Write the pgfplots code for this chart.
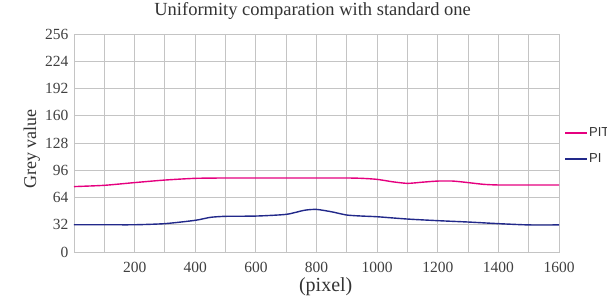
\documentclass[border=0pt]{standalone}
\usepackage{pgfplots}
\pgfplotsset{compat=1.18}
\usepackage{fontspec}
\setmainfont{Liberation Serif}
\newfontfamily\legfont{Liberation Sans}
\definecolor{pinkc}{HTML}{E5007F}
\definecolor{bluec}{HTML}{22298A}
\definecolor{gridc}{HTML}{C4C4C4}
\begin{document}
\begin{tikzpicture}
\useasboundingbox (-74pt,-50pt) rectangle (533pt,252pt);
\clip (-74pt,-50pt) rectangle (533pt,252pt);
\begin{axis}[
  at={(0pt,0pt)}, anchor=south west,
  scale only axis, width=485pt, height=218pt,
  xmin=0, xmax=1600, ymin=0, ymax=256,
  xtick={200,400,...,1600},
  minor xtick={100,300,...,1500},
  ytick={0,32,...,256},
  grid=both,
  major grid style={gridc, line width=0.9pt},
  minor grid style={gridc, line width=0.9pt},
  axis line style={gridc, line width=0.9pt},
  major tick length=0pt, minor tick length=0pt,
  /pgf/number format/assume math mode=true,
  /pgf/number format/1000 sep={},
  tick label style={font=\fontsize{15.5}{18}\selectfont, text=black!75},
  xticklabel style={anchor=base, yshift=-20pt},
  yticklabel style={anchor=east, xshift=-2pt},
  title={Uniformity comparation with standard one},
  title style={font=\fontsize{18.5}{22}\selectfont, text=black!80, anchor=base, at={(axis description cs:0.492,1)}, yshift=12pt},
  xlabel={(pixel)},
  xlabel style={font=\fontsize{20}{24}\selectfont, text=black!80, anchor=base, at={(axis description cs:0.519,-0.182)}},
  ylabel={Grey value},
  ylabel style={font=\fontsize{18}{22}\selectfont, text=black!80, anchor=base, at={(axis description cs:-0.078,0.472)}},
  legend style={draw=none, fill=none, at={(axis description cs:1.0103,0.487)}, anchor=west,
    font=\legfont\fontsize{13}{15}\selectfont, text=black!80, row sep=13pt, inner sep=0pt,
    nodes={inner sep=1pt}},
  legend cell align=left,
  legend image code/.code={\draw[#1, line width=2pt] (0pt,0pt) -- (22pt,0pt);},
]
\addplot[pinkc, line width=1.4pt, smooth, tension=0.4] coordinates {
(0,76.8) (100,78.3) (200,81.5) (300,84.5) (400,86.5) (500,86.9) (600,86.9) (700,86.9) (800,86.9) (900,86.9) (950,86.5) (1000,85.3) (1050,82.5) (1100,80.6) (1150,82.0) (1200,83.3) (1250,83.3) (1300,81.5) (1350,79.5) (1400,78.7) (1500,78.7) (1600,78.7)
};
\addlegendentry{PIT}
\addplot[bluec, line width=1.4pt, smooth, tension=0.4] coordinates {
(0,32) (100,32) (200,32) (300,33.3) (400,37.2) (450,40.7) (500,41.9) (600,42.2) (700,44.2) (760,49.0) (800,50) (850,47.2) (900,43.4) (950,42.2) (1000,41.4) (1100,38.7) (1200,36.8) (1300,35.2) (1400,33.3) (1500,31.8) (1600,31.8)
};
\addlegendentry{PI}
\end{axis}
\end{tikzpicture}
\end{document}
